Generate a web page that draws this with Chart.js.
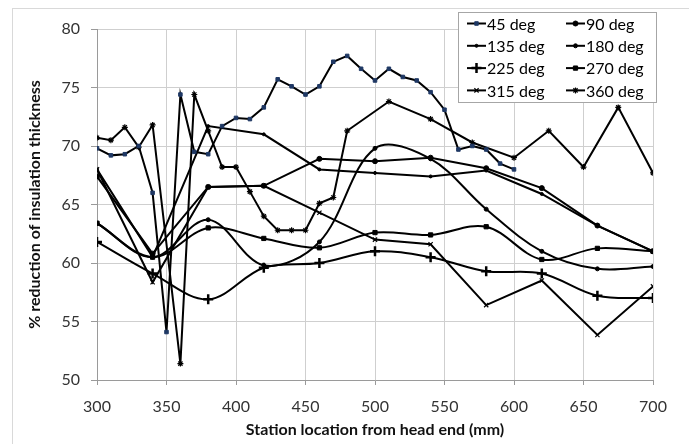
<!DOCTYPE html>
<html>
<head>
<meta charset="utf-8">
<script src="https://cdn.jsdelivr.net/npm/chart.js@4"></script>
<style>
html, body { margin: 0; padding: 0; background: #fff; overflow: hidden; }
</style>
</head>
<body>
<canvas id="chart" width="689" height="444"></canvas>
<script>
// x positions
const x10 = [300,310,320,330,340,350,360,370,380,390,400,410,420,430,440,450,460,470,480,490,500,510,520,530,540,550,560,570,580,590,600];
const x40 = [300,340,380,420,460,500,540,580,620,660,700];
const x360 = [300,310,320,330,340,360,370,380,390,400,410,420,430,440,450,460,470,480,510,540,570,600,625,650,675,700];

// % reduction values
const deg45 = [69.8,69.2,69.3,70.0,66.0,54.1,74.4,69.5,69.3,71.7,72.4,72.3,73.3,75.7,75.1,74.4,75.1,77.2,77.7,76.6,75.6,76.6,75.9,75.6,74.6,73.1,69.7,70.0,69.7,68.5,68.0];
const deg90 = [67.4,60.8,66.5,66.6,68.9,68.7,69.0,68.1,66.4,63.2,61.0];
const deg135 = [68.0,60.5,71.7,71.0,68.0,67.7,67.4,67.9,65.9,63.2,61.0];
const deg180 = [63.4,60.5,63.7,59.8,61.8,69.8,68.9,64.6,61.0,59.5,59.7];
const deg225 = [61.8,59.1,56.9,59.6,60.0,61.0,60.5,59.3,59.1,57.2,57.0];
const deg270 = [63.4,60.5,63.0,62.1,61.3,62.6,62.4,63.1,60.3,61.25,61.0];
const deg315 = [68.0,58.35,66.5,66.6,64.3,62.0,61.6,56.4,58.5,53.85,58.0];
const deg360 = [70.7,70.5,71.6,69.9,71.8,51.4,74.4,71.3,68.2,68.2,66.1,64.0,62.8,62.8,62.8,65.1,65.6,71.3,73.8,72.3,70.3,69.0,71.3,68.2,73.3,67.7];

const xTicks = [300,350,400,450,500,550,600,650,700];
const yTicks = [50,55,60,65,70,75,80];

const pts = (xs, ys) => xs.map((x, i) => ({ x: x, y: ys[i] }));

function series(label, xs, ys, style, radius, smooth, color, pbw) {
    return {
        label: label,
        data: pts(xs, ys),
        borderColor: '#000',
        borderWidth: 2,
        pointStyle: style,
        pointRadius: radius,
        pointBorderWidth: pbw || 1,
        pointBackgroundColor: color || '#000',
        pointBorderColor: color || '#000',
        tension: smooth ? 0.35 : 0,
        fill: false
    };
}

const datasets = [
    series('45 deg', x10, deg45, 'rect', 2.5, false, '#1f3864'),
    series('90 deg', x40, deg90, 'circle', 2.5, false),
    series('135 deg', x40, deg135, 'circle', 1.5, false),
    series('180 deg', x40, deg180, 'circle', 2, true),
    series('225 deg', x40, deg225, 'cross', 5, true, '#000', 2.5),
    series('270 deg', x40, deg270, 'rect', 3, true),
    series('315 deg', x40, deg315, 'crossRot', 3, false, '#000', 1.2),
    series('360 deg', x360, deg360, 'star', 3, false, '#000', 1.2)
];

// chart frame + legend box drawn on top of the plot
const frame = {
    id: 'frame',
    beforeDraw(chart) {
        const ctx = chart.ctx;
        ctx.save();
        ctx.strokeStyle = '#d9d9d9';
        ctx.lineWidth = 1;
        ctx.strokeRect(12.5, 8.5, 700, 460);
        ctx.restore();
    },
    afterDatasetsDraw(chart) {
        const ctx = chart.ctx;
        ctx.save();
        ctx.fillStyle = '#fff';
        ctx.fillRect(458, 12, 198, 90);
        ctx.strokeStyle = '#a6a6a6';
        ctx.lineWidth = 1;
        ctx.strokeRect(458.5, 12.5, 198, 90);
        ctx.font = '16px Lato';
        ctx.textBaseline = 'middle';
        chart.data.datasets.forEach((ds, i) => {
            const col = i % 2, row = Math.floor(i / 2);
            const x0 = col ? 566 : 467;
            const y = 23.5 + row * 22.3;
            ctx.strokeStyle = '#000';
            ctx.lineWidth = 2;
            ctx.beginPath();
            ctx.moveTo(x0, y);
            ctx.lineTo(x0 + 19, y);
            ctx.stroke();
            ctx.fillStyle = ds.pointBackgroundColor;
            ctx.strokeStyle = ds.pointBorderColor;
            ctx.lineWidth = ds.pointBorderWidth;
            Chart.helpers.drawPoint(ctx, { pointStyle: ds.pointStyle, radius: ds.pointRadius, borderWidth: ds.pointBorderWidth, rotation: 0 }, x0 + 9.5, y);
            ctx.fillStyle = '#000';
            ctx.fillText(ds.label, x0 + 20, y + 1);
        });
        ctx.restore();
    }
};

new Chart(document.getElementById('chart'), {
    type: 'line',
    data: { datasets: datasets },
    plugins: [frame],
    options: {
        responsive: false,
        animation: false,
        layout: { padding: { top: 29, right: 36, left: 0, bottom: 0 } },
        plugins: { legend: { display: false }, tooltip: { enabled: false } },
        scales: {
            x: {
                type: 'linear',
                min: 300, max: 700,
                afterBuildTicks: s => { s.ticks = xTicks.map(v => ({ value: v })); },
                afterFit: s => { s.height = 64; },
                grid: { color: '#cfcfcf', tickLength: 5, tickColor: '#9a9a9a' },
                border: { color: '#9a9a9a' },
                ticks: { color: '#333', padding: 12, font: { family: 'Lato', size: 16 }, maxRotation: 0 },
                title: { display: true, text: 'Station location from head end (mm)', color: '#111', padding: { top: 0, bottom: 5 }, font: { family: 'Lato', size: 16, weight: 'bold' } }
            },
            y: {
                min: 50, max: 80,
                afterBuildTicks: s => { s.ticks = yTicks.map(v => ({ value: v })); },
                afterFit: s => { s.width = 97; },
                grid: { color: '#cfcfcf', tickLength: 6, tickColor: '#9a9a9a' },
                border: { color: '#9a9a9a' },
                ticks: { color: '#333', padding: 11, font: { family: 'Lato', size: 16 } },
                title: { display: true, text: '% reduction of insulation thickness', color: '#111', padding: { top: 25, bottom: 0 }, font: { family: 'Lato', size: 16, weight: 'bold' } }
            }
        }
    }
});
</script>
</body>
</html>
